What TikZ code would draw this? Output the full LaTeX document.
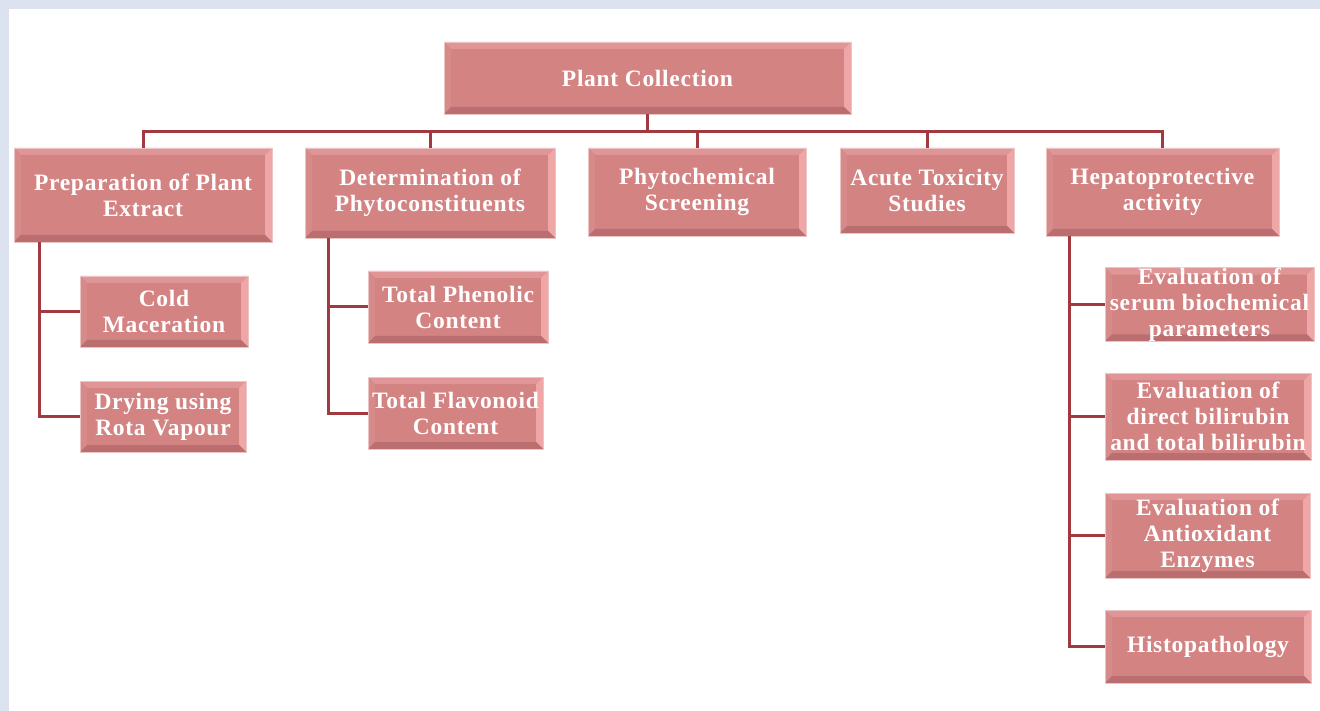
\documentclass[tikz,border=0pt]{standalone}
\usepackage{fontspec}
\newfontfamily\chartfont{Liberation Serif}[LetterSpace=3]
\usetikzlibrary{positioning,calc}

\definecolor{pageframe}{RGB}{221,226,240}
\definecolor{boxfill}{RGB}{212,131,131}
\definecolor{boxtop}{RGB}{224,150,150}
\definecolor{boxleft}{RGB}{214,138,138}
\definecolor{boxright}{RGB}{238,166,166}
\definecolor{boxbottom}{RGB}{186,110,112}
\definecolor{boxedge}{RGB}{236,196,196}
\definecolor{linkcol}{RGB}{160,58,64}

\tikzset{
  stagebox/.style 2 args={rectangle, fill=boxfill, draw=boxedge, line width=0.8pt,
    minimum width=#1, minimum height=#2, inner sep=0pt, align=center, text=white,
    font=\chartfont\bfseries\fontsize{23.5}{26}\selectfont,
    path picture={
      \path (path picture bounding box.north west) coordinate (p1)
            (path picture bounding box.north east) coordinate (p2)
            (path picture bounding box.south east) coordinate (p3)
            (path picture bounding box.south west) coordinate (p4);
      \fill[boxtop] (p1) -- (p2) -- ([shift={(-7pt,-7pt)}]p2) -- ([shift={(7pt,-7pt)}]p1) -- cycle;
      \fill[boxleft] (p1) -- (p4) -- ([shift={(7pt,7pt)}]p4) -- ([shift={(7pt,-7pt)}]p1) -- cycle;
      \fill[boxright] (p2) -- (p3) -- ([shift={(-7pt,7pt)}]p3) -- ([shift={(-7pt,-7pt)}]p2) -- cycle;
      \fill[boxbottom] (p4) -- (p3) -- ([shift={(-7pt,7pt)}]p3) -- ([shift={(7pt,7pt)}]p4) -- cycle;
    }},
  link/.style={draw=linkcol, line width=3pt}
}

\begin{document}
\begin{tikzpicture}[x=1pt,y=-1pt]
    \fill[pageframe] (0,0) rectangle (1320,711);
    \fill[white] (9,9) rectangle (1320,711);
    \useasboundingbox (0,0) rectangle (1320,711);

    \node[stagebox={407pt}{72pt}] (plant) at (647.5,78) {Plant Collection};

    \node[stagebox={258pt}{94pt}] (prep) at (143,195) {Preparation of Plant\\Extract};
    \node[stagebox={250pt}{90pt}] (detn) at (430,193) {Determination of\\Phytoconstituents};
    \node[stagebox={218pt}{88pt}] (phyto) at (697,192) {Phytochemical\\Screening};
    \node[stagebox={174pt}{85pt}] (acute) at (927,190.5) {Acute Toxicity\\Studies};
    \node[stagebox={233pt}{88pt}] (hepato) at (1162.5,192) {Hepatoprotective\\activity};

    \node[stagebox={168pt}{71pt}] (cold) at (164,311.5) {Cold\\Maceration};
    \node[stagebox={166pt}{71pt}] (rota) at (163,416.5) {Drying using\\Rota Vapour};

    \node[stagebox={180pt}{72pt}] (phenol) at (458,307) {Total Phenolic\\Content};
    \node[stagebox={175pt}{72pt}] (flavo) at (455.5,413) {Total Flavonoid\\Content};

    \node[stagebox={209pt}{73pt}] (serum) at (1209.5,304.5) {Evaluation of\\serum biochemical\\parameters};
    \node[stagebox={206pt}{87pt}] (bili) at (1208,416.5) {Evaluation of\\direct bilirubin\\and total bilirubin};
    \node[stagebox={205pt}{85pt}] (antiox) at (1207.5,535.5) {Evaluation of\\Antioxidant\\Enzymes};
    \node[stagebox={206pt}{73pt}] (histo) at (1208,646.5) {Histopathology};

    \foreach \c in {prep,detn,phyto,acute,hepato}
        \draw[link] (plant.south) -- ++(0,17) -| (\c.north);

    \foreach \c in {cold,rota}
        \draw[link] ([xshift=26pt]prep.south west) |- (\c.west);
    \foreach \c in {phenol,flavo}
        \draw[link] ([xshift=24pt]detn.south west) |- (\c.west);
    \foreach \c in {serum,bili,antiox,histo}
        \draw[link] ([xshift=24pt]hepato.south west) |- (\c.west);
\end{tikzpicture}
\end{document}
